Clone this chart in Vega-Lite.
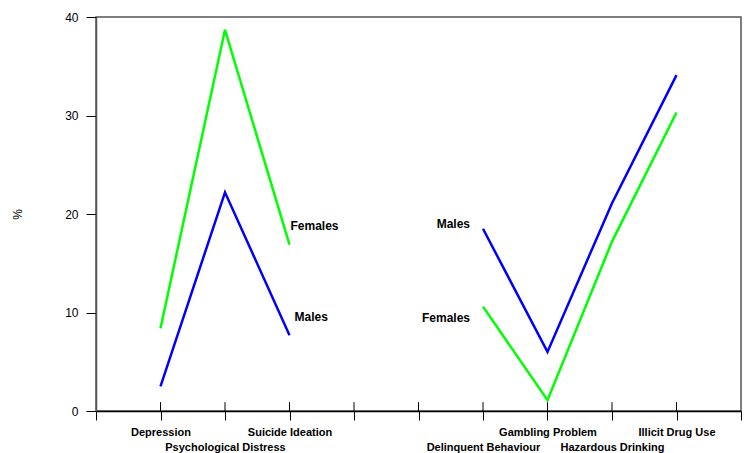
{
  "$schema": "https://vega.github.io/schema/vega-lite/v6.json",
  "width": 645,
  "height": 394,
  "autosize": "none",
  "padding": {"left": 96, "top": 17, "right": 10, "bottom": 42},
  "background": "white",
  "config": {
    "font": "Liberation Sans",
    "view": {"stroke": "#555", "strokeWidth": 1.5}
  },
  "datasets": {
    "lines": [
      {"sex": "Males", "group": "Males-a", "pos": 1, "pct": 2.5},
      {"sex": "Males", "group": "Males-a", "pos": 2, "pct": 22.2},
      {"sex": "Males", "group": "Males-a", "pos": 3, "pct": 7.7},
      {"sex": "Females", "group": "Females-a", "pos": 1, "pct": 8.4},
      {"sex": "Females", "group": "Females-a", "pos": 2, "pct": 38.7},
      {"sex": "Females", "group": "Females-a", "pos": 3, "pct": 16.9},
      {"sex": "Males", "group": "Males-b", "pos": 6, "pct": 18.5},
      {"sex": "Males", "group": "Males-b", "pos": 7, "pct": 6.0},
      {"sex": "Males", "group": "Males-b", "pos": 8, "pct": 21.1},
      {"sex": "Males", "group": "Males-b", "pos": 9, "pct": 34.1},
      {"sex": "Females", "group": "Females-b", "pos": 6, "pct": 10.6},
      {"sex": "Females", "group": "Females-b", "pos": 7, "pct": 1.1},
      {"sex": "Females", "group": "Females-b", "pos": 8, "pct": 17.2},
      {"sex": "Females", "group": "Females-b", "pos": 9, "pct": 30.3}
    ],
    "ticks": [
      {"pos": 1}, {"pos": 2}, {"pos": 3}, {"pos": 4}, {"pos": 5},
      {"pos": 6}, {"pos": 7}, {"pos": 8}, {"pos": 9}
    ],
    "labelsLeft": [
      {"pos": 3, "pct": 18.8, "text": "Females"}
    ],
    "labelsLeft2": [
      {"pos": 3, "pct": 9.5, "text": "Males"}
    ],
    "labelsRight": [
      {"pos": 6, "pct": 19.0, "text": "Males"},
      {"pos": 6, "pct": 9.4, "text": "Females"}
    ]
  },
  "layer": [
    {
      "data": {"name": "ticks"},
      "mark": {"type": "rule", "color": "black", "strokeWidth": 1},
      "encoding": {
        "x": {"field": "pos", "type": "quantitative", "scale": {"domain": [0, 10], "nice": false, "zero": false}},
        "y": {"datum": 0, "type": "quantitative"},
        "y2": {"datum": 0.9}
      }
    },
    {
      "data": {"name": "lines"},
      "mark": {"type": "line", "strokeWidth": 2.5},
      "encoding": {
        "x": {
          "field": "pos",
          "type": "quantitative",
          "scale": {"domain": [0, 10], "nice": false, "zero": false},
          "axis": {
            "values": [0, 1, 2, 3, 4, 5, 6, 7, 8, 9, 10],
            "title": null,
            "grid": false,
            "tickSize": 9,
            "tickColor": "black",
            "domainColor": "black",
            "domainWidth": 1.5,
            "labelFontWeight": "bold",
            "labelFontSize": 11,
            "labelColor": "black",
            "labelPadding": 6,
            "labelLineHeight": 15,
            "labelOverlap": false,
            "labelFlush": false,
            "labelExpr": "datum.value == 1 ? 'Depression' : datum.value == 2 ? ['', 'Psychological Distress'] : datum.value == 3 ? 'Suicide Ideation' : datum.value == 6 ? ['', 'Delinquent Behaviour'] : datum.value == 7 ? 'Gambling Problem' : datum.value == 8 ? ['', 'Hazardous Drinking'] : datum.value == 9 ? 'Illicit Drug Use' : ''"
          }
        },
        "y": {
          "field": "pct",
          "type": "quantitative",
          "scale": {"domain": [0, 40], "nice": false},
          "axis": {
            "values": [0, 10, 20, 30, 40],
            "title": "%",
            "titleFontWeight": "normal",
            "titleFontSize": 12,
            "titleColor": "black",
            "titlePadding": 40,
            "grid": false,
            "tickSize": 10,
            "tickColor": "black",
            "domainColor": "#555",
            "domainWidth": 1.5,
            "labelFontSize": 12,
            "labelColor": "black",
            "labelPadding": 8
          }
        },
        "color": {
          "field": "sex",
          "type": "nominal",
          "scale": {"domain": ["Males", "Females"], "range": ["#0000ff", "#00ff00"]},
          "legend": null
        },
        "detail": {"field": "group"}
      }
    },
    {
      "data": {"name": "labelsLeft"},
      "mark": {"type": "text", "align": "left", "baseline": "middle", "fontWeight": "bold", "fontSize": 12, "dx": 1, "color": "black"},
      "encoding": {
        "x": {"field": "pos", "type": "quantitative"},
        "y": {"field": "pct", "type": "quantitative"},
        "text": {"field": "text"}
      }
    },
    {
      "data": {"name": "labelsLeft2"},
      "mark": {"type": "text", "align": "left", "baseline": "middle", "fontWeight": "bold", "fontSize": 12, "dx": 5, "color": "black"},
      "encoding": {
        "x": {"field": "pos", "type": "quantitative"},
        "y": {"field": "pct", "type": "quantitative"},
        "text": {"field": "text"}
      }
    },
    {
      "data": {"name": "labelsRight"},
      "mark": {"type": "text", "align": "right", "baseline": "middle", "fontWeight": "bold", "fontSize": 12, "dx": -13, "color": "black"},
      "encoding": {
        "x": {"field": "pos", "type": "quantitative"},
        "y": {"field": "pct", "type": "quantitative"},
        "text": {"field": "text"}
      }
    }
  ]
}
